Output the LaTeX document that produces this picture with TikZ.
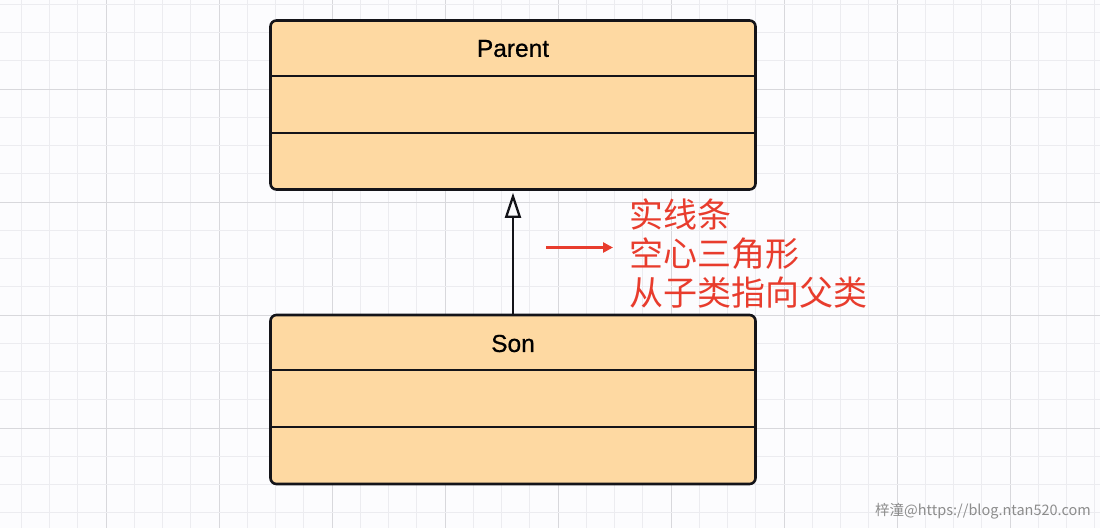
\documentclass[tikz,border=0pt]{standalone}
\usepackage{fontspec}
\setmainfont{Liberation Sans}
\newfontfamily\titlefont{Liberation Sans}[FakeBold=0.7]
\newfontfamily\cjk{Noto Sans CJK SC}
\usetikzlibrary{arrows.meta,calc}
\definecolor{bgwhite}{RGB}{252,252,254}
\definecolor{gridminor}{RGB}{236,236,240}
\definecolor{gridmajor}{RGB}{216,216,220}
\definecolor{boxfill}{RGB}{254,217,162}
\definecolor{boxline}{RGB}{20,20,25}
\definecolor{notered}{RGB}{232,60,45}
\definecolor{wmgray}{RGB}{140,140,140}
\tikzset{
  umlbox/.style={draw=boxline, line width=2.6pt, fill=boxfill, rounded corners=6pt,
    minimum width=485pt, minimum height=169pt, inner sep=0pt},
  divider/.style={draw=boxline, line width=2.4pt},
  umltitle/.style={font=\titlefont\fontsize{24.5}{28}\selectfont, text=black, inner sep=0pt},
  inherit/.style={draw=boxline, line width=2.3pt, -{Triangle[open, length=25pt, width=16pt, line width=2.3pt]}},
  notearrow/.style={draw=notered, line width=3pt, -{Triangle[length=10pt, width=10pt]}},
  notetext/.style={font=\cjk\fontsize{34}{39}\selectfont, text=notered, align=left, inner sep=0pt},
  watermark/.style={font=\cjk\fontsize{14.5}{17}\selectfont, text=wmgray, inner sep=0pt}
}
\begin{document}
\begin{tikzpicture}[x=1pt,y=-1pt]
\useasboundingbox (0,0) rectangle (1100,528);
\fill[bgwhite] (0,0) rectangle (1100,528);
\begin{scope}
\clip (0,0) rectangle (1100,528);
\foreach \k in {-4,...,35}{
  \pgfmathtruncatemacro{\m}{mod(\k+40,4)}
  \ifnum\m=0
    \draw[gridmajor, line width=1pt] ({106+\k*28.25},0) -- ({106+\k*28.25},528);
  \else
    \draw[gridminor, line width=1pt] ({106+\k*28.25},0) -- ({106+\k*28.25},528);
  \fi
}
\foreach \k in {-4,...,16}{
  \pgfmathtruncatemacro{\m}{mod(\k+40,4)}
  \ifnum\m=0
    \draw[gridmajor, line width=1pt] (0,{89+\k*28.25}) -- (1100,{89+\k*28.25});
  \else
    \draw[gridminor, line width=1pt] (0,{89+\k*28.25}) -- (1100,{89+\k*28.25});
  \fi
}
\end{scope}

% Parent class
\node[umlbox] (parent) at (513,105) {};
\draw[divider] ($(parent.north west)+(0,56.5)$) -- ($(parent.north east)+(0,56.5)$);
\draw[divider] ($(parent.north west)+(0,113.5)$) -- ($(parent.north east)+(0,113.5)$);
\node[umltitle] (ptitle) at (513,48.5) {Parent};

% Son class
\node[umlbox] (son) at (513,399.5) {};
\draw[divider] ($(son.north west)+(0,56.5)$) -- ($(son.north east)+(0,56.5)$);
\draw[divider] ($(son.north west)+(0,113)$) -- ($(son.north east)+(0,113)$);
\node[umltitle] (stitle) at (513,343.5) {Son};

% inheritance
\draw[inherit] (son.north) -- ($(parent.south)+(0,2)$);

% note
\coordinate (ras) at (546,247.5);
\coordinate (rae) at (613,247.5);
\draw[notearrow] (ras) -- (rae);
\node[notetext, anchor=west] (note) at (629,254) {实线条\\空心三角形\\从子类指向父类};

% watermark
\node[watermark, anchor=east] (wm) at (1091,511) {梓潼@https://blog.ntan520.com};
\end{tikzpicture}
\end{document}
